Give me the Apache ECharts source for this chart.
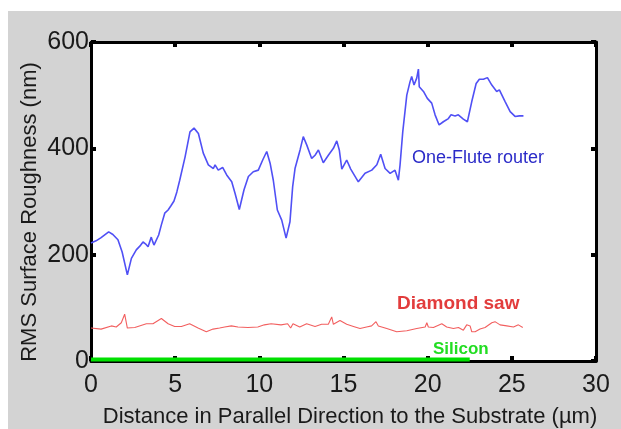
<!DOCTYPE html>
<html>
<head>
<meta charset="utf-8">
<script src="https://cdn.jsdelivr.net/npm/echarts@6/dist/echarts.min.js"></script>
<style>
html,body{margin:0;padding:0;background:#fff;}
#c{width:621px;height:429px;}
</style>
</head>
<body>
<div id="c"></div>
<script>
// Axis ticks
const xTicks = [0, 5, 10, 15, 20, 25, 30];
const yTicks = [0, 200, 400, 600];

// One-Flute router (blue)
const routerX = [0,0.3,0.6,1.05,1.3,1.6,1.85,2.16,2.4,2.69,2.9,3.09,3.25,3.39,3.58,3.66,3.74,4.02,4.18,4.38,4.58,4.75,4.93,5.1,5.27,5.59,5.88,6.12,6.38,6.67,6.97,7.27,7.37,7.56,7.82,8.06,8.36,8.56,8.81,9.09,9.35,9.64,9.94,10.2,10.44,10.64,10.83,11.07,11.33,11.59,11.82,11.98,12.12,12.42,12.61,12.82,13.11,13.31,13.51,13.8,14.1,14.4,14.6,14.75,14.9,15.19,15.43,15.88,16.28,16.68,16.98,17.21,17.47,17.77,18.06,18.26,18.36,18.52,18.76,18.95,19.05,19.19,19.35,19.45,19.5,19.75,19.98,20.24,20.44,20.68,20.93,21.23,21.39,21.63,21.82,22.12,22.36,22.62,22.88,23.07,23.31,23.55,23.81,24.1,24.26,24.6,24.9,25.19,25.45,25.69];
const routerY = [222,226,232,243,238,228,205,162,193,209,216,224,220,215,233,225,218,237,256,278,284,292,301,318,340,384,431,438,428,391,369,362,369,359,364,350,337,315,285,322,347,356,359,378,394,372,340,284,265,231,262,328,362,397,422,406,381,387,397,373,387,400,414,397,361,378,361,337,353,359,369,389,362,353,359,340,369,431,500,525,535,519,532,549,516,507,494,485,463,444,450,456,463,461,463,455,450,488,522,530,530,533,519,507,510,488,469,460,461,461];

// Diamond saw (red)
const sawX = [0,0.6,1.21,1.5,1.8,2.0,2.16,2.6,3.29,3.68,4.18,4.58,4.97,5.37,5.86,6.36,6.85,7.25,7.64,7.94,8.34,8.73,9.32,9.91,10.3,10.7,11.29,11.68,11.86,12.0,12.4,12.81,13.31,13.7,14.1,14.3,14.4,14.79,15.19,15.59,15.98,16.37,16.67,16.93,17.07,17.57,18.16,18.76,19.35,19.85,19.95,20.04,20.34,20.84,21.13,21.53,21.83,22.12,22.32,22.52,22.62,22.82,23.11,23.41,23.81,24.0,24.3,24.7,25.1,25.39,25.65];
const sawY = [62,60,66,64,72,88,62,63,70,70,80,70,65,65,70,62,55,60,62,64,66,64,63,64,68,70,68,70,62,70,64,70,65,69,69,83,69,76,69,65,61,64,66,74,66,61,55,57,61,64,72,64,63,70,64,61,63,58,68,66,55,55,60,63,72,74,68,66,64,68,63];

// Silicon (green)
const siliconX = [0, 22.5];
const siliconY = [3, 3];

const zip = (xs, ys) => xs.map((x, i) => [x, ys[i]]);
const FONT = '"Liberation Sans", Arial, sans-serif';

const chart = echarts.init(document.getElementById('c'), null, {renderer: 'canvas'});

const axisCommon = {
  type: 'value',
  axisLine: {show: true, onZero: false, lineStyle: {color: '#000', width: 3}},
  axisTick: {show: true, inside: true, length: 5, lineStyle: {color: '#000', width: 4}},
  splitLine: {show: false}
};

chart.setOption({
  backgroundColor: '#ffffff',
  animation: false,
  grid: {left: 91, right: 25, top: 42, bottom: 68, show: true, backgroundColor: '#ffffff', borderWidth: 0},
  xAxis: [
    Object.assign({}, axisCommon, {
      position: 'bottom', min: 0, max: 30, interval: 5,
      axisLabel: {show: true, margin: 12, color: '#1a1a1a', fontSize: 25, fontFamily: FONT,
        formatter: v => xTicks.includes(v) ? String(v) : ''}
    }),
    Object.assign({}, axisCommon, {
      position: 'top', min: 0, max: 30, interval: 5, axisLabel: {show: false}
    })
  ],
  yAxis: [
    Object.assign({}, axisCommon, {
      position: 'left', min: 0, max: 600, interval: 200,
      axisLabel: {show: true, margin: 2, color: '#1a1a1a', fontSize: 25, fontFamily: FONT,
        formatter: v => yTicks.includes(v) ? String(v) : ''}
    }),
    Object.assign({}, axisCommon, {
      position: 'right', min: 0, max: 600, interval: 200, axisLabel: {show: false}
    })
  ],
  graphic: [
    {type: 'rect', z: -100, shape: {x: 8, y: 11, width: 613, height: 418}, style: {fill: '#d3d3d3'}},
    {type: 'text', z: 100, x: 30, y: 212, rotation: Math.PI / 2,
      style: {text: 'RMS Surface Roughness (nm)', fill: '#1a1a1a', font: '22px ' + FONT, textAlign: 'center', textVerticalAlign: 'middle'}},
    {type: 'text', z: 100, x: 350, y: 417,
      style: {text: 'Distance in Parallel Direction to the Substrate (µm)', fill: '#1a1a1a', font: '22px ' + FONT, textAlign: 'center', textVerticalAlign: 'middle'}},
    {type: 'text', z: 100, x: 412, y: 158,
      style: {text: 'One-Flute router', fill: '#2b2bc8', font: '18px ' + FONT, textAlign: 'left', textVerticalAlign: 'middle'}},
    {type: 'text', z: 100, x: 397, y: 304,
      style: {text: 'Diamond saw', fill: '#e23c3c', font: 'bold 19px ' + FONT, textAlign: 'left', textVerticalAlign: 'middle'}},
    {type: 'text', z: 100, x: 433, y: 349,
      style: {text: 'Silicon', fill: '#22dd22', font: 'bold 17px ' + FONT, textAlign: 'left', textVerticalAlign: 'middle'}}
  ],
  series: [
    {name: 'Silicon', type: 'line', xAxisIndex: 0, yAxisIndex: 0, data: zip(siliconX, siliconY),
      showSymbol: false, symbol: 'none', lineStyle: {color: '#00e000', width: 4}, z: 3},
    {name: 'Diamond saw', type: 'line', xAxisIndex: 0, yAxisIndex: 0, data: zip(sawX, sawY),
      showSymbol: false, symbol: 'none', lineStyle: {color: '#f25f5f', width: 1.1}, z: 4},
    {name: 'One-Flute router', type: 'line', xAxisIndex: 0, yAxisIndex: 0, data: zip(routerX, routerY),
      showSymbol: false, symbol: 'none', lineStyle: {color: '#5050f5', width: 1.6}, z: 5}
  ]
});
</script>
</body>
</html>
